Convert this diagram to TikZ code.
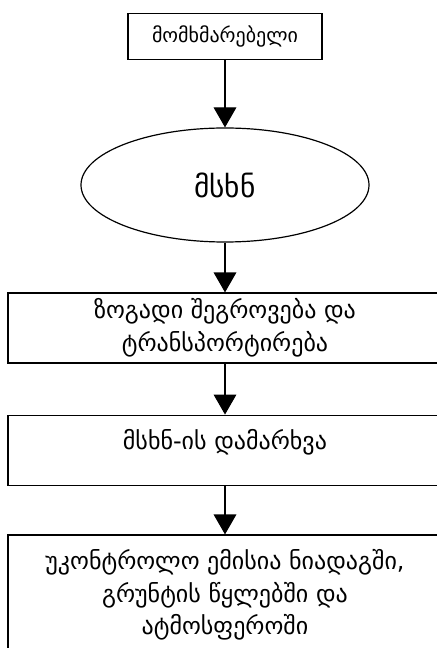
\documentclass[tikz,border=0pt]{standalone}
\usepackage{fontspec}
\setmainfont{DejaVu Sans}
\usetikzlibrary{shapes,arrows.meta}

\begin{document}
\begin{tikzpicture}[x=0.75pt, y=-0.75pt, line width=0.9pt,
    font=\fontsize{18}{24.5}\selectfont]
    \useasboundingbox (0,0) rectangle (436,648);
    \node [rectangle, draw, minimum width=145.5pt, minimum height=35pt, font=\fontsize{15}{18}\selectfont] (user) at (225, 36.5) {მომხმარებელი};
    \node [ellipse, draw, minimum width=216pt, minimum height=85.5pt, font=\fontsize{22}{24}\selectfont] (msn) at (225, 185) {მსხნ};
    \node [rectangle, draw, align=center, minimum width=325.5pt, minimum height=52.5pt] (collect) at (225, 328) {ზოგადი შეგროვება და\\ტრანსპორტირება};
    \node [rectangle, draw, minimum width=325.5pt, minimum height=53pt, text depth=16pt] (burial) at (225, 450.5) {მსხნ-ის დამარხვა};
    \node [rectangle, draw, align=center, minimum width=325.5pt, minimum height=90pt] (emission) at (225, 595) {უკონტროლო ემისია ნიადაგში,\\გრუნტის წყლებში და\\ატმოსფეროში};

    \draw [-{Triangle[width=17pt, length=15pt]}] (user) edge (msn);
    \draw [-{Triangle[width=17pt, length=15pt]}] (msn) edge (collect);
    \draw [-{Triangle[width=17pt, length=15pt]}] (collect) edge (burial);
    \draw [-{Triangle[width=17pt, length=15pt]}] (burial) edge (emission);
  \end{tikzpicture}
\end{document}
